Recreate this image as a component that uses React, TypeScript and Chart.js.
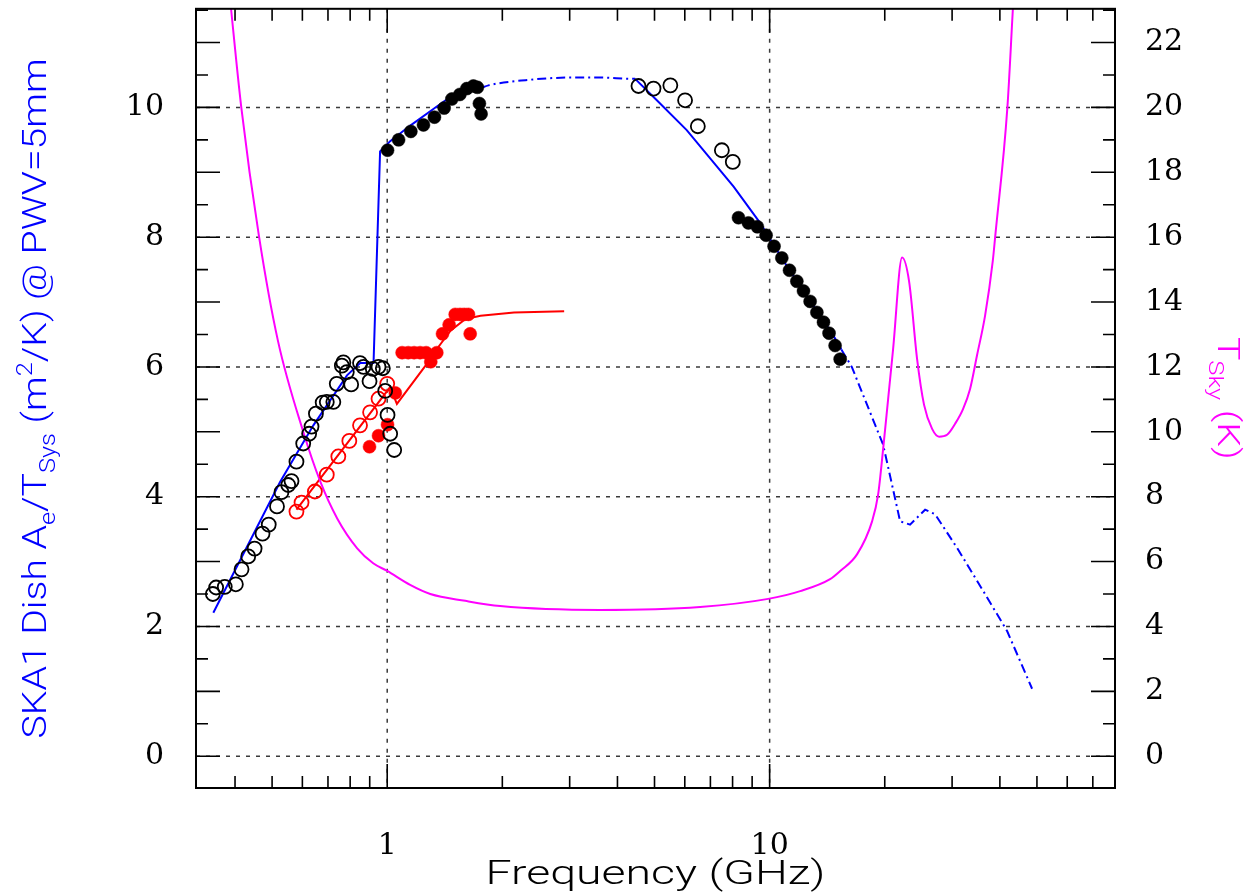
import React, { useEffect, useRef } from "react";
import { Chart, registerables } from "chart.js";

Chart.register(...registerables);

// ---------------- axis ranges & ticks ----------------
const xMin = 0.31623;
const xMax = 80;
const yMin = -0.49;
const yMax = 11.52;
const y2Min = -0.98;
const y2Max = 23.04;

const xLabelTicks = [1, 10];
const xMinorTicks = [0.4, 0.5, 0.6, 0.7, 0.8, 0.9, 2, 3, 4, 5, 6, 7, 8, 9, 20, 30, 40, 50, 60, 70, 80];
const yLeftLabels = [0, 2, 4, 6, 8, 10];
const yRightLabels = [0, 2, 4, 6, 8, 10, 12, 14, 16, 18, 20, 22];
const xGridValues = [1, 10];
const yGridValues = [0, 2, 4, 6, 8, 10];

// ---------------- data ----------------
// Blue Ae/Tsys model curve (left axis)
const blueLowFreq = [0.351, 0.525, 0.641, 0.785, 0.85, 0.921, 0.958, 1.018, 1.149, 1.42, 1.76];
const blueLowVal = [2.21, 4.23, 5.1, 5.87, 6.06, 6.06, 9.32, 9.48, 9.72, 10.11, 10.3];
const blueMidFreq = [1.76, 1.84, 2.3, 3.02, 3.62, 4.35, 4.45];
const blueMidVal = [10.3, 10.34, 10.42, 10.46, 10.46, 10.44, 10.44];
const blueHighFreq = [4.45, 5.07, 6.07, 8.05, 9.44, 11.08, 14.66, 15.4];
const blueHighVal = [10.44, 10.11, 9.65, 8.78, 8.22, 7.56, 6.49, 6.27];
const blueExtFreq = [15.4, 16.4, 19.81, 21.94, 23.29, 25.5, 27.08, 30.92, 36.15, 41.78, 48.56];
const blueExtVal = [6.27, 6.0, 4.8, 3.62, 3.57, 3.8, 3.73, 3.21, 2.55, 1.93, 1.04];

// Red model curve (left axis)
const redLineFreq = [0.579, 1.018, 1.06, 1.271, 1.35, 1.464, 1.602, 1.754, 2.146, 2.902];
const redLineVal = [3.8, 5.69, 5.43, 6.05, 6.28, 6.56, 6.74, 6.79, 6.84, 6.86];

// Magenta Tsky curve (right axis)
const tskyFreq = [0.3875, 0.391, 0.4152, 0.462, 0.5178, 0.6032, 0.6681, 0.74, 0.8346, 0.919, 1.0, 1.148, 1.296, 1.6, 1.974, 3.605, 6.58, 9.91, 12.02, 14.39, 15.29, 16.94, 18.53, 19.22, 19.81, 20.41, 21.03, 22.2, 23.16, 24.3, 25.34, 26.6, 27.74, 29.11, 30.55, 32.06, 33.43, 34.86, 36.6, 38.33, 38.86, 41.85, 43.23, 43.5];
const tskyVal = [23.45, 22.98, 20.02, 16.03, 12.81, 10.0, 8.47, 7.33, 6.41, 5.95, 5.71, 5.28, 5.0, 4.79, 4.63, 4.51, 4.6, 4.85, 5.09, 5.46, 5.71, 6.23, 7.24, 8.07, 9.48, 11.01, 12.55, 15.37, 14.63, 12.24, 10.83, 10.09, 9.85, 9.91, 10.25, 10.71, 11.32, 12.36, 13.59, 15.27, 15.98, 20.0, 22.98, 23.55];

// Black open circles (measurements, low band)
const openLowFreq = [0.35, 0.357, 0.376, 0.402, 0.416, 0.433, 0.45, 0.472, 0.49, 0.515, 0.529, 0.551, 0.562, 0.579, 0.603, 0.625, 0.634, 0.651, 0.678, 0.695, 0.723, 0.738, 0.761, 0.768, 0.784, 0.805, 0.849, 0.867, 0.899, 0.917, 0.949, 0.974, 0.988, 1.002, 1.018, 1.043];
const openLowVal = [2.5, 2.6, 2.61, 2.65, 2.88, 3.08, 3.2, 3.43, 3.57, 3.85, 4.07, 4.18, 4.24, 4.54, 4.82, 4.97, 5.08, 5.28, 5.45, 5.46, 5.46, 5.74, 6.02, 6.07, 5.92, 5.73, 6.06, 6.0, 5.78, 5.97, 6.0, 5.98, 5.63, 5.26, 4.97, 4.72];
// Black open circles (high band)
const openHighFreq = [4.54, 4.97, 5.5, 6.01, 6.49, 7.5, 8.01];
const openHighVal = [10.33, 10.29, 10.34, 10.11, 9.71, 9.34, 9.16];
// Black filled circles
const filledAFreq = [1.002, 1.071, 1.153, 1.244, 1.329, 1.409, 1.476, 1.549, 1.615, 1.68, 1.721, 1.742, 1.76];
const filledAVal = [9.34, 9.5, 9.63, 9.73, 9.85, 9.99, 10.13, 10.2, 10.29, 10.33, 10.31, 10.06, 9.9];
const filledBFreq = [8.29, 8.8, 9.29, 9.79, 10.27, 10.76, 11.27, 11.78, 12.26, 12.76, 13.29, 13.83, 14.3, 14.83, 15.29];
const filledBVal = [8.3, 8.22, 8.16, 8.03, 7.86, 7.68, 7.49, 7.32, 7.17, 7.01, 6.84, 6.69, 6.52, 6.33, 6.12];
// Red circles
const redOpenFreq = [0.579, 0.597, 0.647, 0.695, 0.745, 0.796, 0.849, 0.902, 0.949, 1.0];
const redOpenVal = [3.77, 3.91, 4.08, 4.34, 4.62, 4.86, 5.1, 5.3, 5.51, 5.74];
const redFilledFreq = [0.899, 0.949, 1.002, 1.05, 1.094, 1.135, 1.176, 1.219, 1.264, 1.3, 1.348, 1.395, 1.452, 1.506, 1.55, 1.59, 1.631, 1.648];
const redFilledVal = [4.77, 4.94, 5.11, 5.6, 6.22, 6.22, 6.22, 6.22, 6.22, 6.08, 6.22, 6.51, 6.65, 6.81, 6.81, 6.81, 6.81, 6.51];

const pts = (xs: number[], ys: number[]) => xs.map((x, i) => ({ x, y: ys[i] }));

type Seg = { t: string; s?: "sub" | "sup" };

function drawRich(
  ctx: CanvasRenderingContext2D,
  segs: Seg[],
  o: { x: number; y: number; angle: number; size: number; family: string; weight: string; color: string; length?: number }
) {
  ctx.save();
  const fontFor = (seg: Seg) => `${o.weight} ${seg.s ? o.size * 0.65 : o.size}px "${o.family}"`;
  let total = 0;
  const widths = segs.map((seg) => {
    ctx.font = fontFor(seg);
    const w = ctx.measureText(seg.t).width;
    total += w;
    return w;
  });
  const sx = o.length ? o.length / total : 1;
  ctx.translate(o.x, o.y);
  ctx.rotate(o.angle);
  ctx.scale(sx, 1);
  ctx.fillStyle = o.color;
  ctx.textBaseline = "alphabetic";
  ctx.textAlign = "left";
  let cx = -total / 2;
  segs.forEach((seg, i) => {
    ctx.font = fontFor(seg);
    const dy = seg.s === "sub" ? o.size * 0.28 : seg.s === "sup" ? -o.size * 0.42 : 0;
    ctx.fillText(seg.t, cx, dy);
    cx += widths[i];
  });
  ctx.restore();
}

const MAJOR = 24;
const MINOR = 12;

const framePlugin = {
  id: "pgframe",
  beforeDatasetsDraw(chart: any) {
    const { ctx, chartArea: a, scales } = chart;
    ctx.save();
    ctx.strokeStyle = "#3a3a3a";
    ctx.lineWidth = 1.5;
    ctx.setLineDash([4, 6]);
    ctx.beginPath();
    for (const v of xGridValues) {
      const px = scales.x.getPixelForValue(v);
      ctx.moveTo(px, a.top);
      ctx.lineTo(px, a.bottom);
    }
    for (const v of yGridValues) {
      const py = scales.y.getPixelForValue(v);
      ctx.moveTo(a.left, py);
      ctx.lineTo(a.right, py);
    }
    ctx.stroke();
    ctx.restore();
  },
  afterDatasetsDraw(chart: any) {
    const { ctx, chartArea: a, scales } = chart;
    ctx.save();
    ctx.strokeStyle = "#000";
    ctx.lineWidth = 1.6;
    ctx.beginPath();
    const xt = [...xMinorTicks.map((v) => [v, MINOR]), ...xLabelTicks.map((v) => [v, MAJOR])];
    for (const [v, len] of xt) {
      const px = scales.x.getPixelForValue(v);
      ctx.moveTo(px, a.bottom);
      ctx.lineTo(px, a.bottom - len);
      ctx.moveTo(px, a.top);
      ctx.lineTo(px, a.top + len);
    }
    for (let i = 0; i <= 23; i++) {
      const v = i / 2;
      const len = i % 2 === 0 ? MAJOR : MINOR;
      const py = scales.y.getPixelForValue(v);
      ctx.moveTo(a.left, py);
      ctx.lineTo(a.left + len, py);
    }
    for (let v = 0; v <= 23; v++) {
      const len = v % 2 === 0 ? MAJOR : MINOR;
      const py = scales.y2.getPixelForValue(v);
      ctx.moveTo(a.right, py);
      ctx.lineTo(a.right - len, py);
    }
    ctx.stroke();
    ctx.lineWidth = 2;
    ctx.strokeRect(a.left, a.top, a.right - a.left, a.bottom - a.top);
    ctx.restore();
  },
  afterDraw(chart: any) {
    const { ctx, chartArea: a } = chart;
    drawRich(ctx, [{ t: "Frequency (GHz)" }], {
      x: (a.left + a.right) / 2,
      y: 884,
      angle: 0,
      size: 34,
      family: "Roboto",
      weight: "300",
      color: "#000000",
      length: 340,
    });
    drawRich(
      ctx,
      [
        { t: "SKA1 Dish A" },
        { t: "e", s: "sub" },
        { t: "/T" },
        { t: "Sys", s: "sub" },
        { t: " (m" },
        { t: "2", s: "sup" },
        { t: "/K) @ PWV=5mm" },
      ],
      { x: 46, y: (a.top + a.bottom) / 2, angle: -Math.PI / 2, size: 33, family: "Roboto", weight: "300", color: "#0000ff", length: 680 }
    );
    drawRich(
      ctx,
      [{ t: "T" }, { t: "Sky", s: "sub" }, { t: " (K)" }],
      { x: 1218, y: (a.top + a.bottom) / 2, angle: Math.PI / 2, size: 32, family: "Roboto", weight: "300", color: "#ff00ff", length: 123 }
    );
  },
};

const tickFont = { family: "DejaVu Serif", size: 30 };

const noPad = (s: any) => {
  s.paddingTop = 0;
  s.paddingBottom = 0;
  s.paddingLeft = 0;
  s.paddingRight = 0;
};

export default function App() {
  const ref = useRef<HTMLCanvasElement | null>(null);
  useEffect(() => {
    if (!ref.current) return;
    const line = (xs: number[], ys: number[], color: string, dash: number[] = [], axis = "y", smooth = false) => ({
      data: pts(xs, ys),
      showLine: true,
      borderColor: color,
      borderWidth: 2,
      borderDash: dash,
      pointRadius: 0,
      fill: false,
      yAxisID: axis,
      cubicInterpolationMode: smooth ? "monotone" : "default",
      tension: smooth ? 0.4 : 0,
      order: 10,
    });
    const marks = (xs: number[], ys: number[], color: string, filled: boolean) => ({
      data: pts(xs, ys),
      showLine: false,
      pointStyle: "circle",
      pointRadius: filled ? 6.5 : 7,
      pointBorderWidth: filled ? 0.5 : 1.8,
      pointBorderColor: color,
      pointBackgroundColor: filled ? color : "rgba(0,0,0,0)",
      borderColor: color,
      backgroundColor: filled ? color : "rgba(0,0,0,0)",
      yAxisID: "y",
      order: 1,
    });
    const dashDot = [9, 4, 2, 4];
    const chart = new Chart(ref.current, {
      type: "scatter",
      data: {
        datasets: [
          line(tskyFreq, tskyVal, "#ff00ff", [], "y2", true),
          line(blueLowFreq, blueLowVal, "#0000ff"),
          line(blueMidFreq, blueMidVal, "#0000ff", dashDot, "y", true),
          line(blueHighFreq, blueHighVal, "#0000ff"),
          line(blueExtFreq, blueExtVal, "#0000ff", dashDot),
          line(redLineFreq, redLineVal, "#ff0000"),
          marks(openLowFreq, openLowVal, "#000000", false),
          marks(openHighFreq, openHighVal, "#000000", false),
          marks(filledAFreq, filledAVal, "#000000", true),
          marks(filledBFreq, filledBVal, "#000000", true),
          marks(redOpenFreq, redOpenVal, "#ff0000", false),
          marks(redFilledFreq, redFilledVal, "#ff0000", true),
        ] as any,
      },
      options: {
        animation: false,
        responsive: false,
        maintainAspectRatio: false,
        devicePixelRatio: 1,
        events: [],
        layout: { padding: { top: 5, left: 0, right: 0, bottom: 0 } },
        plugins: { legend: { display: false }, tooltip: { enabled: false } },
        scales: {
          x: {
            type: "logarithmic",
            position: "bottom",
            bounds: "data",
            min: xMin,
            max: xMax,
            grid: { display: false },
            border: { display: false },
            ticks: { font: tickFont, color: "#000", padding: 32, maxRotation: 0, autoSkip: false, callback: (v: any) => String(v) },
            afterBuildTicks: (s: any) => {
              s.ticks = xLabelTicks.map((v) => ({ value: v }));
            },
            afterFit: (s: any) => {
              s.height = 105;
              noPad(s);
            },
          },
          y: {
            type: "linear",
            position: "left",
            bounds: "data",
            min: yMin,
            max: yMax,
            grid: { display: false },
            border: { display: false },
            ticks: { font: tickFont, color: "#000", padding: 24, callback: (v: any) => String(v) },
            afterBuildTicks: (s: any) => {
              s.ticks = yLeftLabels.map((v) => ({ value: v }));
            },
            afterFit: (s: any) => {
              s.width = 196;
              noPad(s);
            },
          },
          y2: {
            type: "linear",
            position: "right",
            bounds: "data",
            min: y2Min,
            max: y2Max,
            grid: { display: false },
            border: { display: false },
            ticks: { font: tickFont, color: "#000", padding: 22, callback: (v: any) => String(v) },
            afterBuildTicks: (s: any) => {
              s.ticks = yRightLabels.map((v) => ({ value: v }));
            },
            afterFit: (s: any) => {
              s.width = 139;
              noPad(s);
            },
          },
        },
      } as any,
      plugins: [framePlugin],
    });
    return () => chart.destroy();
  }, []);
  return (
    <div style={{ position: "absolute", left: 0, top: 0, width: 1254, height: 893, background: "#fff" }}>
      <canvas ref={ref} width={1254} height={893} style={{ display: "block", width: 1254, height: 893 }} />
    </div>
  );
}
